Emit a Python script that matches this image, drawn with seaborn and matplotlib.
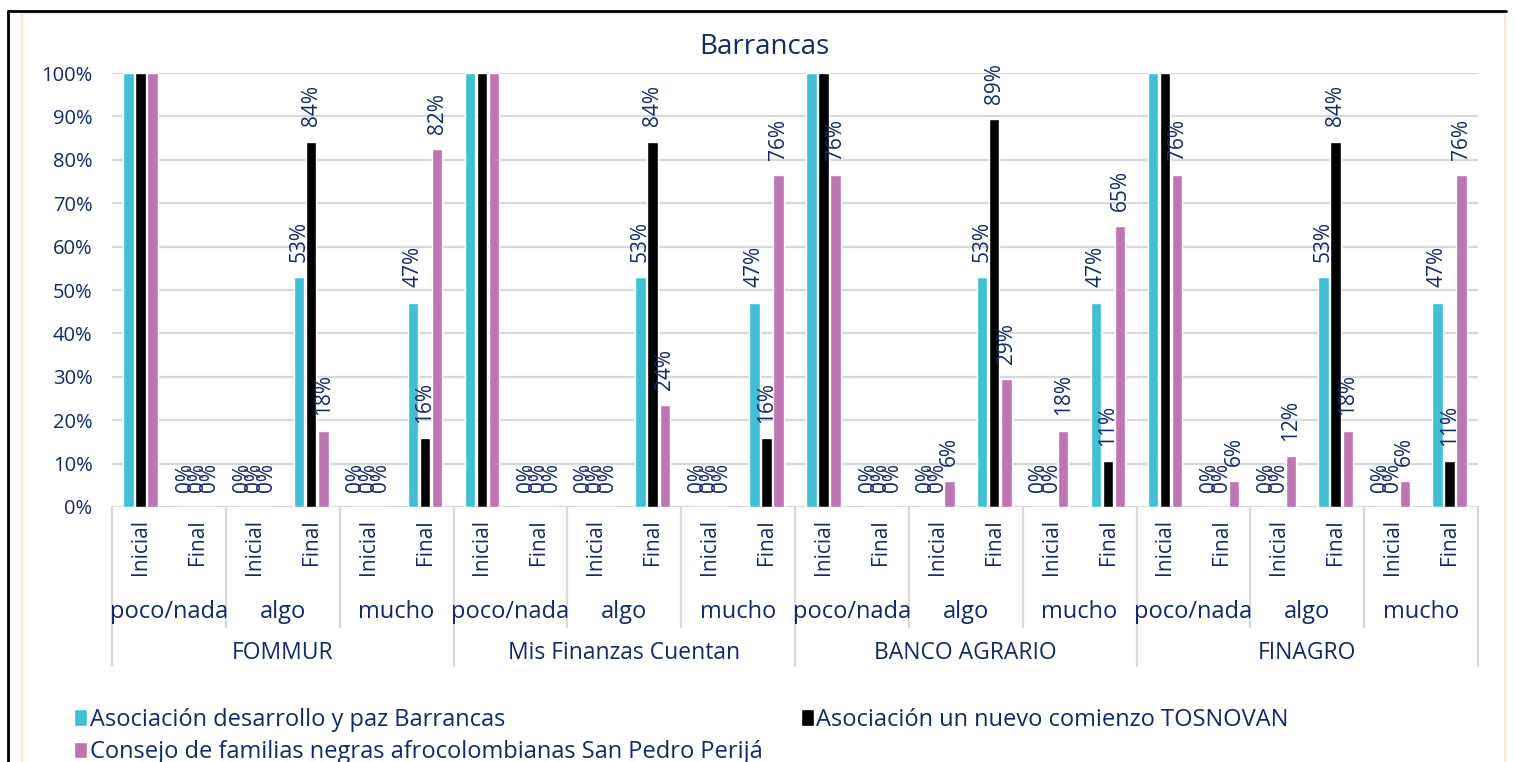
import numpy as np
import pandas as pd
import matplotlib
matplotlib.use('Agg')
import matplotlib.pyplot as plt
import matplotlib.transforms as mtransforms
from matplotlib.lines import Line2D
from matplotlib.patches import Patch, Rectangle
from matplotlib.ticker import PercentFormatter
import seaborn as sns

sns.set_theme(style='white')
plt.rcParams['font.family'] = ['Open Sans', 'DejaVu Sans']

NAVY = '#13296B'

entities = ['FOMMUR', 'Mis Finanzas Cuentan', 'BANCO AGRARIO', 'FINAGRO']
levels = ['poco/nada', 'algo', 'mucho']
moments = ['Inicial', 'Final']

series_names = ['Asociación desarrollo y paz Barrancas',
                'Asociación un nuevo comienzo TOSNOVAN',
                'Consejo de familias negras afrocolombianas San Pedro Perijá']
colors = ['#41BFD3', '#000000', '#BD75B3']

# values per category, ordered entity > level > moment (fractions)
asociacion = [1.00, 0.00, 0.00, 0.529, 0.00, 0.471,
              1.00, 0.00, 0.00, 0.529, 0.00, 0.471,
              1.00, 0.00, 0.00, 0.529, 0.00, 0.471,
              1.00, 0.00, 0.00, 0.529, 0.00, 0.471]
tosnovan = [1.00, 0.00, 0.00, 0.842, 0.00, 0.158,
            1.00, 0.00, 0.00, 0.842, 0.00, 0.158,
            1.00, 0.00, 0.00, 0.894, 0.00, 0.106,
            1.00, 0.00, 0.00, 0.842, 0.00, 0.106]
consejo = [1.00, 0.00, 0.00, 0.176, 0.00, 0.824,
           1.00, 0.00, 0.00, 0.235, 0.00, 0.765,
           0.765, 0.00, 0.059, 0.294, 0.176, 0.647,
           0.765, 0.059, 0.118, 0.176, 0.059, 0.765]

cats = [f'{e}|{l}|{m}' for e in entities for l in levels for m in moments]
rows = []
for name, vals in zip(series_names, [asociacion, tosnovan, consejo]):
    for c, v in zip(cats, vals):
        rows.append({'cat': c, 'serie': name, 'valor': v})
df = pd.DataFrame(rows)

fig = plt.figure(figsize=(15.14, 7.62), dpi=100)
ax = fig.add_axes([112 / 1514, 1 - 507 / 762, (1478 - 112) / 1514, (507 - 73) / 762])

sns.barplot(data=df, x='cat', y='valor', hue='serie', order=cats,
            hue_order=series_names, palette=dict(zip(series_names, colors)),
            width=0.64, gap=0.14, saturation=1, legend=False, ax=ax, errorbar=None)

ax.set_ylim(0, 1)
ax.set_xlim(-0.5, len(cats) - 0.5)
ax.set_yticks(np.arange(0, 1.01, 0.1))
ax.yaxis.set_major_formatter(PercentFormatter(1.0, decimals=0))
ax.tick_params(axis='y', labelsize=14.5, labelcolor=NAVY, length=0, pad=14)
ax.set_xticks([])
ax.set_xlabel('')
ax.set_ylabel('')
ax.yaxis.grid(True, color='#D9D9D9', linewidth=1.6)
ax.set_axisbelow(True)
for s in ax.spines.values():
    s.set_visible(False)

fig.text(764 / 1514, 1 - 47 / 762, 'Barrancas', fontsize=20, color=NAVY,
         ha='center', va='center')

# data labels
for cont in ax.containers:
    for bar in cont:
        h = bar.get_height()
        if h >= 0.995:
            continue
        ax.annotate(f'{h * 100:.0f}%', (bar.get_x() + bar.get_width() / 2, h),
                    xytext=(0, 11), textcoords='offset points',
                    rotation=90, ha='center', va='bottom',
                    fontsize=15, color=NAVY)

# multi-level category axis
tr = mtransforms.blended_transform_factory(ax.transData, ax.transAxes)
for i, c in enumerate(cats):
    ax.text(i, -0.028, c.split('|')[2], rotation=90, ha='center', va='top',
            fontsize=15, color=NAVY, transform=tr)
for k in range(len(entities) * len(levels)):
    ax.text(2 * k + 0.5, -0.242, levels[k % 3], ha='center', va='center',
            fontsize=17, color=NAVY, transform=tr)
for k in range(len(entities)):
    ax.text(6 * k + 2.5, -0.337, entities[k], ha='center', va='center',
            fontsize=16.5, color=NAVY, transform=tr)
for b in range(0, len(cats) + 1, 2):
    bottom = -0.366 if b % 6 == 0 else -0.276
    ax.plot([b - 0.5, b - 0.5], [0, bottom], color='#D9D9D9', lw=1.6,
            transform=tr, clip_on=False)

# legend
handles = [Patch(facecolor=col, label=n) for n, col in zip(series_names, colors)]
order = [0, 2, 1]
fig.legend([handles[i] for i in order], [series_names[i] for i in order],
           loc='upper left', bbox_to_anchor=(0.049, 0.0715), ncol=2, frameon=False,
           fontsize=17, labelcolor=NAVY, handlelength=0.55, handleheight=0.7,
           handletextpad=0.12, columnspacing=1.6, labelspacing=0.37,
           borderaxespad=0, borderpad=0)

# outer frame
fig.add_artist(Rectangle((22 / 1514, -0.01), (1505 - 22) / 1514, 1 - 13 / 762 + 0.01,
                         transform=fig.transFigure, fill=False,
                         edgecolor='#FCE4D6', lw=1.5))
fig.add_artist(Line2D([8 / 1514, 1506 / 1514], [1 - 11 / 762, 1 - 11 / 762],
                      transform=fig.transFigure, color='black', lw=2))
fig.add_artist(Line2D([8 / 1514, 8 / 1514], [0, 1 - 11 / 762],
                      transform=fig.transFigure, color='black', lw=2))

fig.savefig('out.png', dpi=100, facecolor='white')
